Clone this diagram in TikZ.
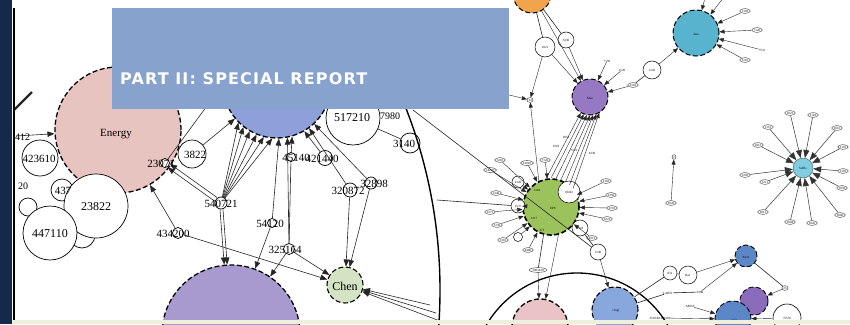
\documentclass[tikz,border=0pt]{standalone}
\usepackage{fontspec}
\setmainfont{Liberation Serif}
\newfontfamily\bannerfont{DejaVu Sans}[LetterSpace=7]
\usetikzlibrary{arrows.meta,shapes.geometric}
\definecolor{navy}{HTML}{142A4C}
\definecolor{bannerc}{HTML}{87A2CD}
\definecolor{pinkE}{HTML}{E8C4C0}
\definecolor{finblue}{HTML}{8E9FD9}
\definecolor{purbig}{HTML}{A899CE}
\definecolor{chengreen}{HTML}{D3E3C3}
\definecolor{epsgreen}{HTML}{9CC25C}
\definecolor{meapurple}{HTML}{9679C2}
\definecolor{tealc}{HTML}{58B3CE}
\definecolor{lteal}{HTML}{80CCE0}
\definecolor{orangec}{HTML}{F2A34E}
\definecolor{lpinkc}{HTML}{E9C3C6}
\definecolor{lbluec}{HTML}{88A7DD}
\definecolor{dblue}{HTML}{5B87C7}
\definecolor{dpurple}{HTML}{8A6CBA}
\definecolor{bandc}{HTML}{EEF0DE}
\begin{document}
\begin{tikzpicture}[x=1pt,y=-1pt,
  hub/.style={circle,draw=black,line width=1.3pt,dash pattern=on 5pt off 2.5pt,inner sep=0pt},
  wn/.style={circle,draw=black,line width=0.7pt,fill=white,inner sep=0pt},
  tnode/.style={ellipse,draw=black!80,line width=0.4pt,fill=white,inner sep=0.6pt,font=\fontsize{3.2}{3.5}\selectfont},
  tx/.style={inner sep=0pt,font=\fontsize{11}{11}\selectfont},
  txs/.style={inner sep=0pt,font=\fontsize{10}{10}\selectfont},
  tinyt/.style={inner sep=0pt,font=\fontsize{3.2}{3.5}\selectfont},
  ed/.style={draw=black!85,line width=0.6pt},
  arr/.style={ed,-{Triangle[length=7pt,width=5.5pt]}},
  sarr/.style={ed,line width=0.4pt,-{Triangle[length=5pt,width=4pt]}},
  starr/.style={draw=black!80,line width=0.5pt,-{Triangle[length=8pt,width=6pt]}},
]
\useasboundingbox (0,0) rectangle (850,324);
\clip (0,0) rectangle (850,324);
\fill[white] (0,0) rectangle (850,324);

% ---------- left cluster ----------
\node[wn,minimum size=26pt] (c82) at (82,235) {};
\node[wn,minimum size=18pt] (c28) at (28,207) {};
\node[wn,minimum size=22pt] (n437) at (62,190) {};
\node[hub,fill=pinkE,minimum size=126pt] (energy) at (118,130) {};
\node[wn,minimum size=36pt] (n423610) at (40,158) {};
\node[wn,minimum size=64pt] (n23822) at (96,206) {};
\node[wn,minimum size=54pt] (n447110) at (50,233) {};

\coordinate (lft) at (16,136);
\coordinate (sl1) at (14,110);
\coordinate (sl2) at (32,92);
\draw[arr] (lft) -- (energy);
\draw[ed,line width=2.2pt] (sl1) -- (sl2);

% ---------- middle cluster ----------
\node[hub,fill=finblue,minimum size=108pt] (fin) at (277,84) {};
\node[hub,fill=purbig,minimum size=138pt] (pur) at (231,334) {};
\node[wn,minimum size=54pt] (n517210) at (353,118) {};
\node[hub,fill=chengreen,minimum size=36pt,line width=1.1pt] (chen) at (345,285) {};
\node[wn,minimum size=28pt] (n3822) at (192,154) {};
\node[wn,minimum size=9pt] (n2307) at (165,163) {};
\node[wn,minimum size=12pt] (n5421) at (221,203) {};
\node[wn,minimum size=9pt] (n5420) at (272,223) {};
\node[wn,minimum size=11pt] (n4342) at (178,233) {};
\node[wn,minimum size=11pt] (n32564) at (289,249) {};
\node[wn,minimum size=9pt] (n4514) at (291,157) {};
\node[wn,minimum size=15pt] (n4214) at (325,158) {};
\node[wn,minimum size=14pt] (n3287) at (350,190) {};
\node[wn,minimum size=12pt] (n3289) at (371,183) {};
\node[wn,minimum size=20pt] (n3140) at (410,143) {};

\coordinate (c1) at (215,95);
\coordinate (ch1) at (430,305);
\coordinate (ch2) at (436,313);
\coordinate (ch3) at (440,321);

\draw[arr] (n4342) -- (energy);
\draw[arr,transform canvas={shift={(1.2pt,1.8pt)}}] (n5421) -- (n2307);
\draw[arr,transform canvas={shift={(-1.2pt,-1.8pt)}}] (n5421) -- (n2307);
\draw[arr] (n3822) -- (fin);
\draw[ed] (n2307) -- (c1);
\foreach \a in {225,232,240,248,256,265} \draw[arr] (n5421) -- (fin.\a);
\draw[arr,transform canvas={shift={(-1.5pt,0pt)}}] (n5421) -- (pur);
\draw[arr,transform canvas={shift={(1.5pt,0pt)}}] (n5421) -- (pur);
\draw[arr] (n5420) -- (fin.272);
\draw[arr] (n5420) -- (pur);
\draw[arr] (n32564) -- (fin.281);
\draw[arr] (n32564) -- (pur);
\draw[arr] (n32564) -- (chen);
\draw[arr] (n4342) -- (chen);
\draw[ed] (n4514) -- (n32564);
\draw[arr] (n4514) -- (fin.286);
\draw[arr] (n4214) -- (fin.300);
\draw[arr] (n3287) -- (fin.306);
\draw[arr] (n3289) -- (fin.313);
\draw[arr] (n3287) -- (chen);
\draw[arr] (n3289) -- (chen);
\draw[ed] (n517210) -- (n3140);
\draw[arr] (ch1) -- (chen);
\draw[arr] (ch2) -- (chen);
\draw[arr] (ch3) -- (chen);

% big arc
\coordinate (bigc) at (-60,290);
\begin{scope}
\clip (380,100) rectangle (460,324);
\draw[line width=1.4pt] (bigc) circle[radius=500pt];
\end{scope}

% labels left/middle
\node[txs,anchor=west] (l412) at (15,137) {412};
\node[txs,anchor=west] (l20) at (18,186) {20};
\node[tx] (energy-t) at (116,134) {Energy};
\node[tx] (n423610-t) at (39,159) {423610};
\node[tx] (n437-t) at (63,191) {437};
\node[tx,font=\fontsize{12}{12}\selectfont] (n23822-t) at (96,207) {23822};
\node[tx,font=\fontsize{12}{12}\selectfont] (n447110-t) at (50,234) {447110};
\node[tx,font=\fontsize{12}{12}\selectfont] (n517210-t) at (352,118) {517210};
\node[tx,font=\fontsize{12}{12}\selectfont] (chen-t) at (345,286) {Chen};
\node[tx] (n3822-t) at (195,155) {3822};
\node[tx] (n2307-t) at (161,164) {23071};
\node[tx] (n5421-t) at (221,204) {540721};
\node[tx] (n5420-t) at (270,224) {54120};
\node[tx] (n4342-t) at (173,234) {434200};
\node[tx] (n32564-t) at (285,250) {325164};
\node[tx] (n4514-t) at (296,158) {45140};
\node[tx] (n4214-t) at (322,159) {421440};
\node[tx] (n3287-t) at (348,191) {320872};
\node[tx] (n3289-t) at (374,184) {32898};
\node[tx] (n3140-t) at (404,144) {3140};
\node[txs] (l7980) at (390,116) {7980};

% ---------- green cluster ----------
\node[hub,fill=epsgreen,minimum size=56pt,line width=1.6pt] (eps) at (551,207) {};
\node[wn,minimum size=22pt,line width=0.5pt] (w1) at (569,192) {};
\node[wn,minimum size=16pt,line width=0.5pt] (w2) at (580,228) {};
\node[wn,minimum size=14pt,line width=0.5pt] (w3) at (518,206) {};
\node[wn,minimum size=12pt,line width=0.5pt] (w4) at (518,182) {};
\node[tnode] (w5) at (496,193) {1340};
\node[wn,minimum size=9pt,line width=0.5pt] (w6) at (518,237) {};
\node[wn,minimum size=16pt,line width=0.5pt] (w7) at (598,252) {};
\node[tinyt] (w1-t) at (569,192) {10443};
\node[tinyt] (w2-t) at (580,228) {2118};
\node[tinyt] (w3-t) at (518,206) {1537};
\node[tinyt] (w4-t) at (518,182) {2120};
\node[tinyt] (w7-t) at (598,252) {3140};
\node[tinyt] (eps-t) at (553,208) {EPS};
\node[tinyt] (eps-t2) at (537,190) {2118};
\node[tinyt] (eps-t3) at (534,218) {3117};
\node[tinyt] (eps-t4) at (542,230) {371};

\foreach \px/\py/\lb [count=\i] in {490/170/14220,500/160/3210,490/212/2371,497/225/5130,503/240/3310,528/250/4400,527/163/12010,545/160/7120,606/181/1130,611/195/2350,612/208/4710,607/219/3221,592/238/1013} {
  \node[tnode] (gs\i) at (\px,\py) {\lb};
  \draw[sarr] (gs\i) -- (eps);
}
\draw[sarr] (w3) -- (eps);
\draw[sarr] (w4) -- (eps);
\draw[sarr] (w5) -- (eps);
\draw[sarr] (w6) -- (eps);
\draw[ed] (w2) -- (w7);

\coordinate (dg1) at (413,110);
\coordinate (hz1) at (437,200);
\draw[ed] (dg1) -- (w7);
\draw[ed] (hz1) -- (w3);

% purple (Mea), orange
\node[hub,fill=meapurple,minimum size=36pt,line width=1pt] (mea) at (590,97) {};
\node[tinyt] (mea-t) at (590,98) {Mea};
\node[hub,fill=orangec,minimum size=38pt,line width=1pt] (orange) at (532,-6) {};
\node[wn,minimum size=20pt,line width=0.5pt] (o1) at (545,47) {};
\node[wn,minimum size=16pt,line width=0.5pt] (o2) at (566,40) {};
\node[tinyt] (o1-t) at (545,47) {1021};
\node[tinyt] (o2-t) at (566,40) {5330};
\node[tnode,fill=white] (tn) at (530,100) {34};
\coordinate (tnl) at (505,94);
\draw[ed] (orange) -- (o1);
\draw[ed] (orange) -- (o2);
\draw[sarr] (o1) -- (mea);
\draw[sarr] (o2) -- (mea);
\draw[sarr] (orange) -- (mea);
\draw[sarr] (o1) -- (tn);
\draw[sarr] (tnl) -- (tn);
\draw[sarr] (eps.115) -- (tn);
\foreach \a/\b in {100/240,90/250,80/260,70/270,60/280,50/290,40/300} \draw[sarr] (eps.\a) -- (mea.\b);
\node[tinyt] (fl1) at (556,146) {3210};
\node[tinyt] (fl2) at (574,150) {5121};
\node[tinyt] (fl3) at (592,153) {4330};
\node[tinyt] (fl4) at (566,137) {2051};

\node[tinyt] (m1) at (607,61) {7150};
\node[tinyt] (m2) at (622,70) {1520};
\node[tnode] (m3) at (633,85) {2110};
\node[wn,minimum size=18pt,line width=0.5pt] (m4) at (652,70) {};
\node[tinyt] (m4-t) at (652,70) {3142};
\draw[sarr] (m1) -- (mea);
\draw[sarr] (m2) -- (mea);
\draw[sarr] (m3) -- (mea);
\draw[ed] (m3) -- (m4);

% teal
\node[hub,fill=tealc,minimum size=46pt,line width=1pt] (teal) at (696,33) {};
\node[tinyt] (teal-t) at (696,34) {Ima};
\draw[sarr] (m4) -- (teal);
\node[tnode] (t1) at (745,11) {1130};
\node[tnode] (t2) at (757,30) {7120};
\node[tinyt] (t3) at (762,50) {7531};
\node[tnode] (t4) at (745,60) {5110};
\coordinate (tt1) at (706,-6);
\coordinate (tt2) at (724,-3);
\foreach \n in {t1,t2,t3,t4,tt1,tt2} \draw[sarr] (\n) -- (teal);

% isolated pair
\node[tnode] (iso1) at (674,157) {2};
\node[tnode] (iso2) at (671,203) {1020};
\draw[sarr] (iso2) -- (iso1);

% right star
\node[circle,draw=black!70,fill=lteal,minimum size=20pt,inner sep=0pt] (st) at (803,168) {};
\node[tinyt] (st-t) at (803,168) {Saffle};
\foreach \px/\py/\lb [count=\i] in {790/113/1021,813/115/1120,837/128/1015,843/147/1110,758/145/1012,768/127/1131,745/175/1202,765/182/1211,763/212/1011,790/222/1004,812/223/1026,840/215/1060,842/188/1050,843/171/1130} {
  \node[tnode] (sp\i) at (\px,\py) {\lb};
  \draw[starr] (sp\i) -- (st);
}

% lower arc & nodes
\coordinate (lowc) at (577,378);
\draw[line width=1.3pt] (lowc) circle[radius=105pt];
\node[hub,fill=lpinkc,minimum size=56pt] (lpink) at (540,327) {};
\node[hub,fill=lbluec,minimum size=46pt,line width=1.1pt] (lblue) at (615,310) {};
\node[tinyt] (lblue-t) at (616,311) {cfugl};
\node[tnode] (p1) at (538,270) {1003420};
\draw[ed] (eps.255) -- (p1);
\draw[sarr] (p1) -- (lpink);
\draw[sarr] (eps.285) -- (lpink);
\draw[sarr] (w7) -- (lblue);

% bottom right
\node[hub,fill=dblue,minimum size=22pt,line width=0.9pt] (brb) at (746,256) {};
\node[hub,fill=dpurple,minimum size=28pt,line width=0.9pt] (brp) at (754,301) {};
\node[hub,fill=dblue,minimum size=36pt,line width=0.9pt] (brbl) at (733,319) {};
\node[wn,minimum size=28pt,line width=0.6pt] (brw) at (787,318) {};
\node[tinyt] (brw-t) at (787,318) {72576};
\node[tinyt] (brb-t) at (746,257) {Pn31};
\node[tinyt] (brbl-t) at (734,320) {cfa3};
\node[wn,minimum size=14pt,line width=0.5pt] (b1) at (670,273) {};
\node[wn,minimum size=18pt,line width=0.5pt] (b2) at (688,275) {};
\node[tinyt] (b1-t) at (670,273) {831};
\node[tinyt] (b2-t) at (688,275) {Ba1};
\node[tnode] (b3) at (785,288) {25};
\node[tinyt] (b4) at (700,292) {3380};
\node[tinyt] (b5) at (668,293) {LAB51};
\node[tinyt] (b6) at (690,306) {A8650};
\node[tinyt] (b7) at (660,318) {3510361006100};
\draw[sarr] (b2) -- (brb);
\draw[sarr] (b4) -- (brb);
\draw[ed] (brb) -- (b3);
\draw[sarr] (b3) -- (brp);
\draw[ed] (b1) -- (b2);
\draw[ed] (lblue) -- (b1);
\draw[ed] (lblue) -- (b5);
\draw[ed] (b5) -- (b4);
\draw[sarr] (b6) -- (brbl);
\draw[sarr] (b7) -- (brbl);
\draw[sarr] (brw) -- (brbl);

% ---------- banner, frame ----------
\fill[bannerc] (112,8) rectangle (509,109);
\node[anchor=base west,inner sep=0pt,text=white,font=\bannerfont\bfseries\fontsize{16}{17}\selectfont] (title) at (120,84) {PART II: SPECIAL REPORT};
\fill[navy] (0,0) rectangle (12,324);
\draw[line width=1.3pt] (14,8) -- (14,320);
\fill[bandc] (12,320) rectangle (850,324);
\end{tikzpicture}
\end{document}
